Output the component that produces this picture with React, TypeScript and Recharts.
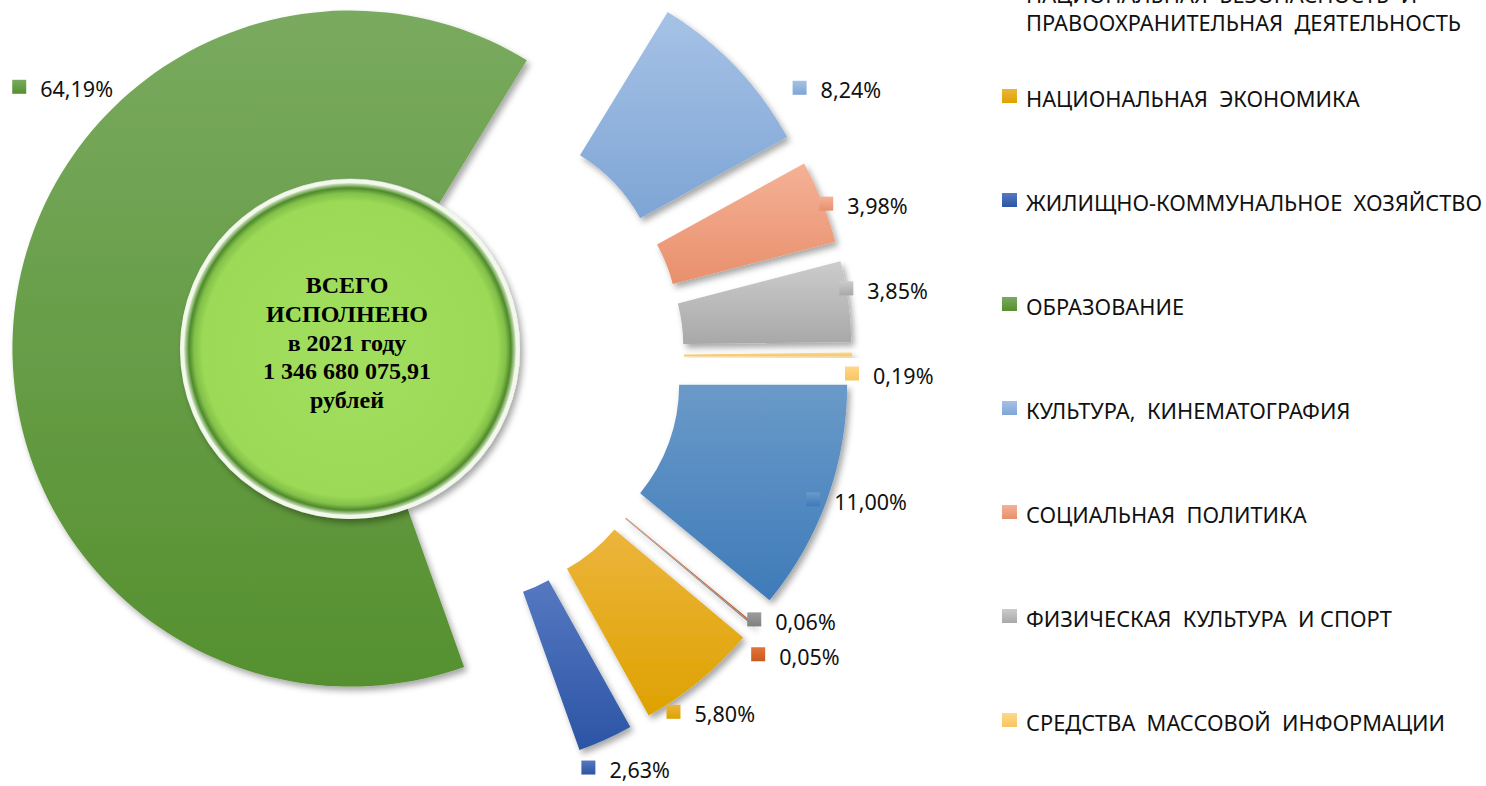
/**
 * Исполнение бюджета 2021 — разрезанная кольцевая диаграмма по разделам
 */

import { PieChart, Pie, Cell, Sector, Legend } from 'recharts';

// разделы в порядке рядов Excel (первые два за верхним краем легенды)
const CATEGORIES = [
  'ОБЩЕГОСУДАРСТВЕННЫЕ  ВОПРОСЫ',
  'НАЦИОНАЛЬНАЯ  ОБОРОНА',
  'НАЦИОНАЛЬНАЯ  БЕЗОПАСНОСТЬ  И\nПРАВООХРАНИТЕЛЬНАЯ  ДЕЯТЕЛЬНОСТЬ',
  'НАЦИОНАЛЬНАЯ  ЭКОНОМИКА',
  'ЖИЛИЩНО-КОММУНАЛЬНОЕ  ХОЗЯЙСТВО',
  'ОБРАЗОВАНИЕ',
  'КУЛЬТУРА,  КИНЕМАТОГРАФИЯ',
  'СОЦИАЛЬНАЯ  ПОЛИТИКА',
  'ФИЗИЧЕСКАЯ  КУЛЬТУРА  И СПОРТ',
  'СРЕДСТВА  МАССОВОЙ  ИНФОРМАЦИИ',
];

// доля в общем исполнении, %
const SHARES = [11.0, 0.05, 0.06, 5.8, 2.63, 64.19, 8.24, 3.98, 3.85, 0.19];

const TOTAL_RUB = 1346680075.91;
const TOTAL_LINES = ['ВСЕГО', 'ИСПОЛНЕНО', 'в 2021 году', '1 346 680 075,91', 'рублей'];

// градиент сверху вниз, как в офисной теме
const COLOR_TOP = [
  '#6a9ac9', '#e2743c', '#9c9c9c', '#ecb53c', '#5678c1',
  '#79aa5f', '#a6c2e6', '#f5b196', '#cccccc', '#ffd788',
];
const COLOR_BOTTOM = [
  '#3e7bb9', '#c95a1f', '#808080', '#dea200', '#2b55a5',
  '#55902f', '#7ea5d5', '#e8906c', '#a8a8a8', '#f7c662',
];

// ручные сдвиги подписей относительно внешнего края сектора
const LABEL_SHIFT: [number, number][] = [
  [-14, 0], [3, 29], [0, -7], [-26, 31], [-17, 28],
  [5, -227], [64, 21], [4, 2], [-2, -13], [0, 19],
];

const EXPLODE = 82;
const RAD = Math.PI / 180;
const LABEL_FONT = '"Noto Sans", "Open Sans", sans-serif';

const data = CATEGORIES.map((name, i) => ({ name, value: SHARES[i] }));
const totalData = [{ name: 'ВСЕГО ИСПОЛНЕНО', value: TOTAL_RUB }];

const fmtPct = (v: number) => `${v.toFixed(2).replace('.', ',')}%`;

function ExplodedSector(props: any) {
  const { cx, cy, midAngle } = props;
  const dx = EXPLODE * Math.cos(-midAngle * RAD);
  const dy = EXPLODE * Math.sin(-midAngle * RAD);
  return <Sector {...props} cx={cx + dx} cy={cy + dy} filter="url(#slice-shadow)" />;
}

// центральный круг рисуем кругом, чтобы не было шва у полного сектора
function DiscShape(props: any) {
  const { cx, cy, outerRadius } = props;
  return (
    <g>
      <circle cx={cx} cy={cy} r={outerRadius} fill="#f3f8ec" filter="url(#slice-shadow)" />
      <circle cx={cx} cy={cy} r={outerRadius - 4} fill="url(#disc-fill)" />
    </g>
  );
}

function renderPct(props: any) {
  const { cx, cy, midAngle, outerRadius, index, value } = props;
  const r = outerRadius + EXPLODE;
  const x = cx + r * Math.cos(-midAngle * RAD) + LABEL_SHIFT[index][0];
  const y = cy + r * Math.sin(-midAngle * RAD) + LABEL_SHIFT[index][1];
  return (
    <g key={`pct-${index}`}>
      <rect x={x - 7} y={y - 7} width={14} height={14} fill={`url(#slice-${index})`} />
      <text
        x={x + 21}
        y={y + 2}
        dominantBaseline="central"
        fontFamily={LABEL_FONT}
        fontSize={21.5}
        fill="#111"
      >
        {fmtPct(value)}
      </text>
    </g>
  );
}

function renderTotal(props: any) {
  const { cx, cy } = props;
  return (
    <text
      key="total"
      x={cx - 3}
      y={cy - 56}
      textAnchor="middle"
      fontFamily='"Liberation Serif", "Times New Roman", serif'
      fontWeight="bold"
      fontSize={24}
      fill="#000"
    >
      {TOTAL_LINES.map((line, i) => (
        <tspan key={line} x={cx - 3} dy={i === 0 ? 0 : 28.8}>
          {line}
        </tspan>
      ))}
    </text>
  );
}

const LEGEND_STEP = 104;
const LEGEND_FIRST_TOP = 85 - 3 * LEGEND_STEP;
const LINE_H = 28;

function LegendBox() {
  return (
    <div style={{ position: 'relative', width: 484, height: 0 }}>
      {CATEGORIES.map((name, i) => {
        const lines = name.split('\n');
        const top = LEGEND_FIRST_TOP + i * LEGEND_STEP;
        if (top + lines.length * LINE_H < 0) return null;
        return (
          <div key={name} style={{ position: 'absolute', left: 0, top }}>
            <span
              style={{
                position: 'absolute',
                left: 0,
                top: 4,
                width: 15,
                height: 14,
                background: `linear-gradient(${COLOR_TOP[i]}, ${COLOR_BOTTOM[i]})`,
              }}
            />
            <div
              style={{
                position: 'absolute',
                left: 24,
                top: 0,
                whiteSpace: 'pre',
                fontFamily: LABEL_FONT,
                fontSize: 21.8,
                lineHeight: `${LINE_H}px`,
                color: '#111',
              }}
            >
              {name}
            </div>
          </div>
        );
      })}
    </div>
  );
}

export default function App() {
  return (
    <div
      style={{
        position: 'absolute',
        left: 0,
        top: 0,
        width: 1486,
        height: 786,
        background: '#fff',
        overflow: 'hidden',
      }}
    >
      <PieChart width={1486} height={786} margin={{ top: 0, right: 0, bottom: 0, left: 0 }}>
        <defs>
          {COLOR_TOP.map((c, i) => (
            <linearGradient key={i} id={`slice-${i}`} x1="0" y1="0" x2="0" y2="1">
              <stop offset="0%" stopColor={c} />
              <stop offset="100%" stopColor={COLOR_BOTTOM[i]} />
            </linearGradient>
          ))}
          <radialGradient id="disc-fill" cx="50%" cy="50%" r="50%">
            <stop offset="0%" stopColor="#a2df5f" />
            <stop offset="89%" stopColor="#9bd956" />
            <stop offset="94%" stopColor="#82c04a" />
            <stop offset="97%" stopColor="#4f8a2b" />
            <stop offset="100%" stopColor="#d5e8c6" />
          </radialGradient>
          <filter id="slice-shadow" x="-20%" y="-20%" width="140%" height="140%">
            <feDropShadow dx="3" dy="4" stdDeviation="3" floodColor="#000" floodOpacity="0.35" />
          </filter>
        </defs>
        <Pie
          data={data}
          dataKey="value"
          nameKey="name"
          cx={432}
          cy={357}
          innerRadius={170}
          outerRadius={338}
          startAngle={0}
          endAngle={-360}
          stroke="none"
          shape={ExplodedSector}
          label={renderPct}
          labelLine={false}
          isAnimationActive={false}
        >
          {data.map((d, i) => (
            <Cell key={d.name} fill={`url(#slice-${i})`} />
          ))}
        </Pie>
        <Pie
          data={totalData}
          dataKey="value"
          nameKey="name"
          cx={350}
          cy={349}
          innerRadius={0}
          outerRadius={170}
          stroke="none"
          shape={DiscShape}
          label={renderTotal}
          labelLine={false}
          isAnimationActive={false}
        />
        <Legend
          content={LegendBox}
          wrapperStyle={{ left: 1002, top: 0, width: 484, height: 0 }}
        />
      </PieChart>
    </div>
  );
}
